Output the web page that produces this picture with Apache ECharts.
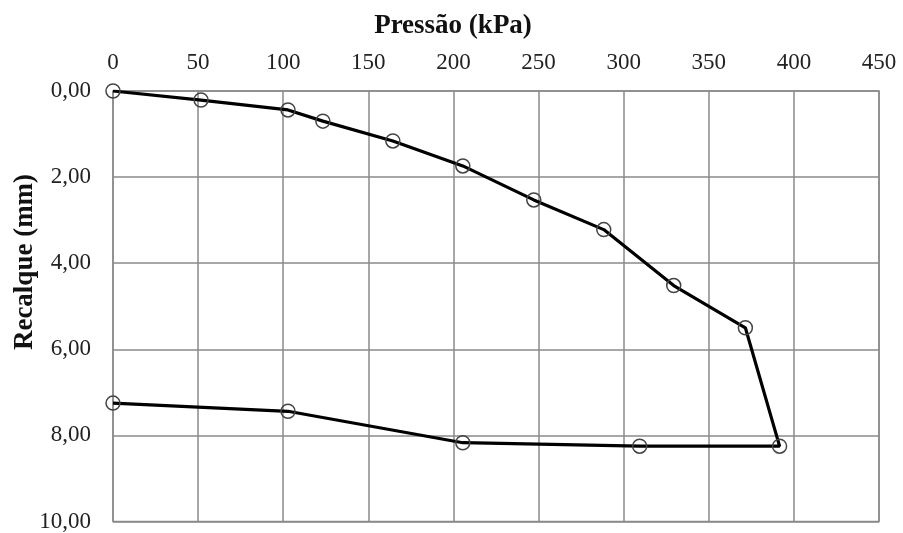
<!DOCTYPE html>
<html><head><meta charset="utf-8">
<script src="https://cdn.jsdelivr.net/npm/echarts@6/dist/echarts.min.js"></script>
<style>html,body{margin:0;padding:0;background:#fff}#c{width:903px;height:533px}</style>
</head><body><div id="c"></div>
<script>
// Load-unload curve: pressure (kPa) vs settlement (mm)
const pressure = [0, 51.7, 102.8, 123.3, 164.4, 205.5, 247.2, 288.3, 329.4, 371.5, 391.6, 309.4, 205.5, 102.8, 0];
const settlement = [0, 0.21, 0.44, 0.70, 1.16, 1.74, 2.53, 3.22, 4.52, 5.50, 8.25, 8.25, 8.17, 7.44, 7.25];
const xTicks = [0, 50, 100, 150, 200, 250, 300, 350, 400, 450];
const yTicks = [0, 2, 4, 6, 8, 10];
const xTitle = 'Pressão (kPa)';
const yTitle = 'Recalque (mm)';

const data = pressure.map((p, i) => [p, settlement[i]]);
const font = 'Liberation Serif';
const chart = echarts.init(document.getElementById('c'), null, {renderer: 'canvas'});
chart.setOption({
  animation: false,
  backgroundColor: '#fff',
  grid: {left: 113, top: 91, right: 24, bottom: 11, show: true, borderColor: '#8a8a8a', borderWidth: 1.5},
  xAxis: {
    type: 'value', position: 'top', min: xTicks[0], max: xTicks[xTicks.length - 1], interval: 50,
    axisLine: {show: false}, axisTick: {show: false},
    splitLine: {show: true, lineStyle: {color: '#8a8a8a', width: 1.5}},
    axisLabel: {fontFamily: font, fontSize: 23, color: '#222', margin: 17}
  },
  yAxis: {
    type: 'value', inverse: true, min: yTicks[0], max: yTicks[yTicks.length - 1], interval: 2,
    axisLine: {show: false}, axisTick: {show: false},
    splitLine: {show: true, lineStyle: {color: '#8a8a8a', width: 1.5}},
    axisLabel: {fontFamily: font, fontSize: 23, color: '#222', margin: 22,
      formatter: v => v.toFixed(2).replace('.', ',')}
  },
  graphic: [
    {type: 'text', x: 453, y: 26, style: {text: xTitle, font: 'bold 27px "Liberation Serif"', fill: '#111', align: 'center', verticalAlign: 'middle'}},
    {type: 'text', x: 25, y: 262, rotation: Math.PI / 2, style: {text: yTitle, font: 'bold 27px "Liberation Serif"', fill: '#111', align: 'center', verticalAlign: 'middle'}}
  ],
  series: [{
    type: 'line', data: data, z: 3,
    lineStyle: {color: '#000', width: 3.2},
    symbol: 'circle', symbolSize: 14, showAllSymbol: true,
    itemStyle: {color: 'rgba(0,0,0,0)', borderColor: '#444', borderWidth: 1.5}
  }]
});
</script></body></html>
